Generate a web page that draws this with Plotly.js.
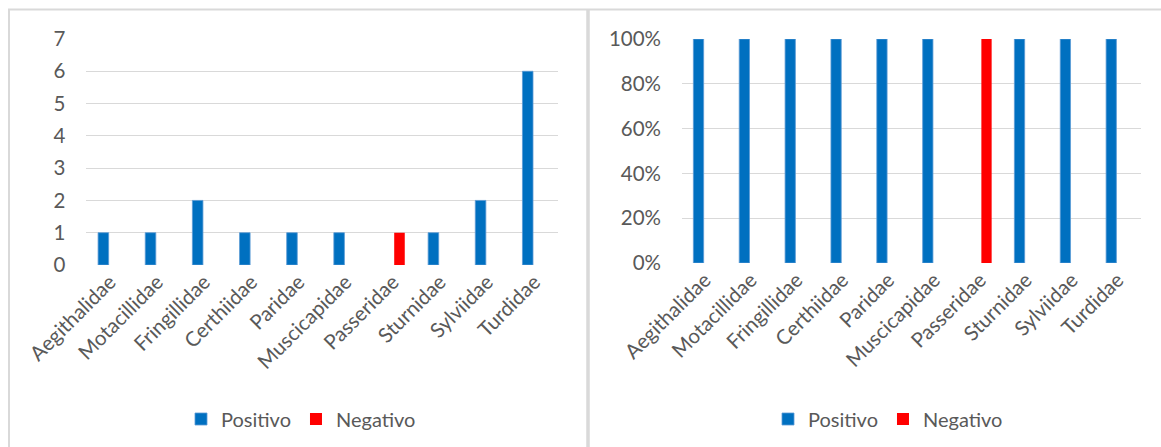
<!DOCTYPE html>
<html>
<head>
<meta charset="utf-8">
<script src="https://cdn.plot.ly/plotly-3.0.1.min.js"></script>
<style>
  html, body { margin: 0; padding: 0; background: #ffffff; }
  #chart { width: 1161px; height: 447px; }
</style>
</head>
<body>
<div id="chart"></div>
<script>
// Bird families examined
const categories = ["Aegithalidae", "Motacillidae", "Fringillidae", "Certhiidae", "Paridae",
                    "Muscicapidae", "Passeridae", "Sturnidae", "Sylviidae", "Turdidae"];

// Counts per family (left panel)
const positivoCount = [1, 1, 2, 1, 1, 1, null, 1, 2, 6];
const negativoCount = [null, null, null, null, null, null, 1, null, null, null];

// Share of results per family (right panel)
const positivoShare = [1, 1, 1, 1, 1, 1, null, 1, 1, 1];
const negativoShare = [null, null, null, null, null, null, 1, null, null, null];

const W = 1161, H = 447;
const px = v => v / W;          // horizontal pixel -> paper
const py = v => (H - v) / H;    // vertical pixel -> paper

const BLUE = "#0070C0", RED = "#FF0000";
const TEXT = "#595959", GRID = "#D9D9D9";
const FONT = "Lato, 'Open Sans', sans-serif";

const blueLine = { color: "#5B9BD5", width: 0.8 };
const redLine = { color: RED, width: 0 };

const traces = [
  { type: "bar", name: "Positivo", x: categories, y: positivoCount, xaxis: "x", yaxis: "y",
    marker: { color: BLUE, line: blueLine }, legend: "legend" },
  { type: "bar", name: "Negativo", x: categories, y: negativoCount, xaxis: "x", yaxis: "y",
    marker: { color: RED, line: redLine }, legend: "legend" },
  { type: "bar", name: "Positivo", x: categories, y: positivoShare, xaxis: "x2", yaxis: "y2",
    marker: { color: BLUE, line: blueLine }, legend: "legend2" },
  { type: "bar", name: "Negativo", x: categories, y: negativoShare, xaxis: "x2", yaxis: "y2",
    marker: { color: RED, line: redLine }, legend: "legend2" }
];

const tickFont = { family: FONT, size: 20.5, color: TEXT };

const xCommon = {
  type: "category",
  tickangle: -45,
  tickfont: tickFont,
  showgrid: false,
  showline: false,
  zeroline: false,
  ticks: "",
  fixedrange: true
};
const yCommon = {
  tickfont: tickFont,
  showgrid: true,
  gridcolor: GRID,
  gridwidth: 1.2,
  zeroline: false,
  showline: false,
  ticks: "",
  ticklabelstandoff: 20,
  fixedrange: true
};

const legendCommon = {
  orientation: "h",
  xanchor: "center",
  yanchor: "middle",
  font: { family: FONT, size: 20, color: TEXT },
  bgcolor: "rgba(0,0,0,0)",
  itemwidth: 30,
  traceorder: "normal"
};

const layout = {
  width: W,
  height: H,
  margin: { l: 0, r: 0, t: 0, b: 0 },
  paper_bgcolor: "#ffffff",
  plot_bgcolor: "#ffffff",
  barmode: "group",
  bargap: 0.44,
  bargroupgap: 0.2,
  showlegend: true,
  xaxis: Object.assign({}, xCommon, { domain: [px(86.4), px(557.9)], anchor: "y" }),
  yaxis: Object.assign({}, yCommon, { domain: [py(265), py(39)], range: [0, 7], dtick: 1, anchor: "x" }),
  xaxis2: Object.assign({}, xCommon, { domain: [px(682), px(1140.6)], anchor: "y2" }),
  yaxis2: Object.assign({}, yCommon, { domain: [py(263), py(39)], range: [0, 1], dtick: 0.2,
                                       tickformat: ".0%", anchor: "x2" }),
  legend: Object.assign({}, legendCommon, { x: px(301), y: py(419) }),
  legend2: Object.assign({}, legendCommon, { x: px(888), y: py(419) }),
  shapes: [
    // panel frames
    { type: "line", xref: "paper", yref: "paper", x0: px(8), x1: 1, y0: py(9.5), y1: py(9.5),
      line: { color: GRID, width: 2 } },
    { type: "line", xref: "paper", yref: "paper", x0: px(9), x1: px(9), y0: 0, y1: py(9.5),
      line: { color: GRID, width: 2 } },
    { type: "line", xref: "paper", yref: "paper", x0: px(588), x1: px(588), y0: 0, y1: py(9.5),
      line: { color: GRID, width: 3.5 } }
  ]
};

Plotly.newPlot("chart", traces, layout, { displayModeBar: false, staticPlot: true });
</script>
</body>
</html>
